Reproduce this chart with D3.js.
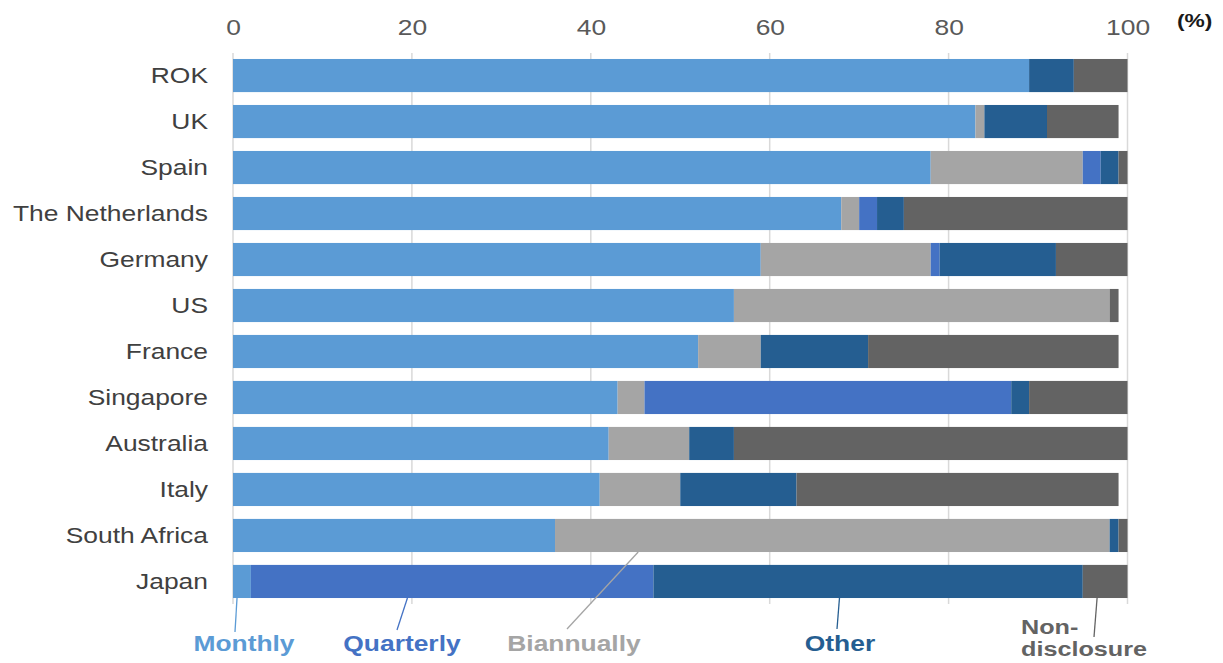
<!DOCTYPE html>
<html>
<head>
<meta charset="utf-8">
<script src="https://cdn.jsdelivr.net/npm/d3@7/dist/d3.min.js"></script>
<style>
  html, body { margin: 0; padding: 0; background: #fff; }
  svg { display: block; font-family: "Liberation Sans", Arial, sans-serif; }
</style>
</head>
<body>
<svg id="chart" width="1223" height="663"></svg>
<script>
// ---- data ----
const countries = ["ROK", "UK", "Spain", "The Netherlands", "Germany", "US", "France",
                   "Singapore", "Australia", "Italy", "South Africa", "Japan"];
const monthly      = [89, 83, 78, 68, 59, 56, 52, 43, 42, 41, 36, 2];
const biannually   = [0, 1, 17, 2, 19, 42, 7, 3, 9, 9, 62, 0];
const quarterly    = [0, 0, 2, 2, 1, 0, 0, 41, 0, 0, 0, 45];
const other        = [5, 7, 2, 3, 13, 0, 12, 2, 5, 13, 1, 48];
const nondisclosure= [6, 8, 1, 25, 8, 1, 28, 11, 44, 36, 1, 5];
const tickValues = [0, 20, 40, 60, 80, 100];
const unitLabel = "(%)";

const keys = ["monthly", "biannually", "quarterly", "other", "nondisclosure"];
const colors = {
  monthly: "#5b9bd5", biannually: "#a5a5a5", quarterly: "#4472c4",
  other: "#255e91", nondisclosure: "#636363"
};

const table = countries.map((c, i) => ({
  country: c, monthly: monthly[i], biannually: biannually[i], quarterly: quarterly[i],
  other: other[i], nondisclosure: nondisclosure[i]
}));

// ---- layout ----
const S = 1.2; // horizontal stretch of the original picture
const svg = d3.select("#chart");
const g = svg.append("g").attr("transform", `scale(${S},1)`);

const x = d3.scaleLinear().domain([0, 100]).range([233 / S, 1127.5 / S]);
const y = d3.scaleBand().domain(countries).range([53, 604])
  .paddingInner(0.28).paddingOuter(0.13);

// gridlines
g.append("g").selectAll("line").data(tickValues).join("line")
  .attr("x1", d => x(d)).attr("x2", d => x(d))
  .attr("y1", 53).attr("y2", 604)
  .attr("stroke", "#d9d9d9").attr("stroke-width", 1.5)
  .attr("vector-effect", "non-scaling-stroke");

// top axis labels
const axis = g.append("g").attr("transform", "translate(0,35)")
  .call(d3.axisTop(x).tickValues(tickValues).tickSize(0).tickPadding(0));
axis.select(".domain").remove();
axis.selectAll("text").attr("font-size", 22).attr("fill", "#595959")
  .attr("font-family", "'Liberation Sans', Arial, sans-serif").attr("dy", "0");

g.append("text").attr("x", 1177 / S).attr("y", 27).text(unitLabel)
  .attr("font-size", 19).attr("font-weight", "bold").attr("fill", "#1a1a1a");

// bars
const stacked = d3.stack().keys(keys)(table);
g.append("g").selectAll("g").data(stacked).join("g")
  .attr("fill", d => colors[d.key])
  .selectAll("rect").data(d => d).join("rect")
  .attr("x", d => x(d[0]))
  .attr("width", d => Math.max(0, x(d[1]) - x(d[0])))
  .attr("y", d => y(d.data.country))
  .attr("height", y.bandwidth());

// country labels
g.append("g").selectAll("text").data(countries).join("text")
  .attr("x", 208 / S)
  .attr("y", d => y(d) + y.bandwidth() / 2)
  .attr("dy", "0.35em")
  .attr("text-anchor", "end")
  .attr("font-size", 22)
  .attr("fill", "#404040")
  .text(d => d);

// legend annotations with leader lines
const jBot = y("Japan") + y.bandwidth();
const saBot = y("South Africa") + y.bandwidth();
const notes = [
  { key: "monthly", lines: ["Monthly"], at: 0.45, y0: jBot, x1: 235, y1: 632, tx: 244, ty: 651, anchor: "middle" },
  { key: "quarterly", lines: ["Quarterly"], at: 19.5, y0: jBot, x1: 397, y1: 630, tx: 402, ty: 651, anchor: "middle" },
  { key: "biannually", lines: ["Biannually"], at: 45.3, y0: saBot, x1: 567, y1: 629, tx: 574, ty: 651, anchor: "middle" },
  { key: "other", lines: ["Other"], at: 67.8, y0: jBot, x1: 837, y1: 629, tx: 840, ty: 651, anchor: "middle" },
  { key: "nondisclosure", lines: ["Non-", "disclosure"], at: 96.6, y0: jBot, x1: 1094, y1: 637, tx: 1021, ty: 634, anchor: "start" }
];
const ng = g.append("g");
notes.forEach(n => {
  ng.append("line")
    .attr("x1", x(n.at)).attr("y1", n.y0)
    .attr("x2", n.x1 / S).attr("y2", n.y1)
    .attr("stroke", colors[n.key]).attr("stroke-width", 1.3)
    .attr("vector-effect", "non-scaling-stroke");
  n.lines.forEach((l, i) => {
    ng.append("text")
      .attr("x", n.tx / S).attr("y", n.ty + i * 22)
      .attr("text-anchor", n.anchor)
      .attr("font-size", n.lines.length > 1 ? 21 : 22).attr("font-weight", "bold")
      .attr("fill", colors[n.key])
      .text(l);
  });
});
</script>
</body>
</html>
